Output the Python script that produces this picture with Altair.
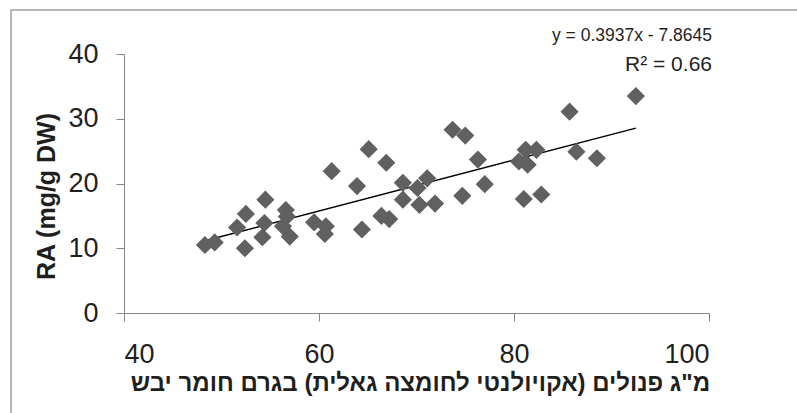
import altair as alt
import pandas as pd

# Total phenolics (mg gallic acid equivalents / g DW) vs. RA (mg/g DW)
phenolics = [48.3, 49.3, 51.6, 52.5, 52.4, 54.5, 54.4, 54.2, 56.6, 56.7,
             56.3, 57.0, 59.5, 60.7, 60.6, 61.3, 63.9, 64.4, 65.1, 66.9,
             66.4, 67.2, 68.6, 68.6, 70.1, 71.1, 70.3, 71.9, 73.7, 75.0,
             76.3, 77.0, 74.7, 81.2, 82.3, 80.5, 81.4, 86.4, 88.5, 81.0,
             82.8, 85.7, 92.5]
ra = [10.5, 10.9, 13.2, 15.3, 10.0, 17.5, 13.9, 11.7, 15.9, 14.9,
      13.4, 11.8, 14.0, 13.4, 12.2, 21.9, 19.6, 12.9, 25.3, 23.2,
      15.0, 14.5, 20.1, 17.5, 19.3, 20.8, 16.7, 16.9, 28.3, 27.4,
      23.7, 19.9, 18.1, 25.2, 25.2, 23.4, 22.9, 24.9, 23.9, 17.6,
      18.3, 31.1, 33.5]

# Linear trendline parameters
slope = 0.3937
intercept = -7.8645
r_squared = 0.66

x_ticks = [40, 60, 80, 100]
y_ticks = [0, 10, 20, 30, 40]

x_title = 'מ"ג פנולים (אקויולנטי לחומצה גאלית) בגרם חומר יבש'
y_title = "RA (mg/g DW)"

points_df = pd.DataFrame({"x": phenolics, "y": ra})
x_lo, x_hi = min(phenolics), max(phenolics)
trend_df = pd.DataFrame({"x": [x_lo, x_hi],
                         "y": [slope * x_lo + intercept, slope * x_hi + intercept]})

AXIS_GRAY = "#868686"
TEXT = "#1f1f1f"
FONT = "Liberation Sans"

x_scale = alt.Scale(domain=[40, 100], nice=False, zero=False)
y_scale = alt.Scale(domain=[0, 40], nice=False)

x_axis = alt.Axis(values=x_ticks, grid=False, tickSize=8, tickColor=AXIS_GRAY,
                  domainColor=AXIS_GRAY, labelFontSize=27, labelFont=FONT,
                  labelColor=TEXT, labelPadding=20, title=x_title,
                  titleFont=FONT, titleFontSize=24, titleFontWeight="bold",
                  titleColor=TEXT, titleX=296, titleY=77, titleAlign="center",
                  titleBaseline="alphabetic")
y_axis = alt.Axis(values=y_ticks, grid=False, tickSize=8, tickColor=AXIS_GRAY,
                  domainColor=AXIS_GRAY, labelFontSize=27, labelFont=FONT,
                  labelColor=TEXT, labelPadding=18, title=y_title,
                  titleFont=FONT, titleFontSize=25, titleFontWeight="bold",
                  titleColor=TEXT, titleAngle=270, titleX=-78, titleY=142,
                  titleAlign="center", titleBaseline="middle")

points = alt.Chart(points_df).mark_point(
    shape="diamond", filled=True, size=330, color="#606060", opacity=1
).encode(
    x=alt.X("x:Q", scale=x_scale, axis=x_axis),
    y=alt.Y("y:Q", scale=y_scale, axis=y_axis),
)

trend = alt.Chart(trend_df).mark_line(color="#000000", strokeWidth=1.5).encode(
    x=alt.X("x:Q", scale=x_scale),
    y=alt.Y("y:Q", scale=y_scale),
)

eq_text = f"y = {slope}x - {abs(intercept)}"
r2_text = f"R\u00b2 = {r_squared}"

equation = alt.Chart(pd.DataFrame({"t": [eq_text]})).mark_text(
    align="right", baseline="alphabetic", fontSize=17.5, font=FONT, color=TEXT
).encode(text="t:N", x=alt.value(588), y=alt.value(-13))

r2 = alt.Chart(pd.DataFrame({"t": [r2_text]})).mark_text(
    align="right", baseline="alphabetic", fontSize=21, font=FONT, color=TEXT
).encode(text="t:N", x=alt.value(588), y=alt.value(17))

# Thin frame around the whole chart
frame = alt.Chart(pd.DataFrame({"k": [0]})).mark_rect(
    fill=None, stroke="#a0a0a0", strokeWidth=1.5
).encode(x=alt.value(-113), x2=alt.value(1000), y=alt.value(-44), y2=alt.value(600))

chart = alt.layer(frame, trend, points, equation, r2).properties(
    width=585, height=259,
    autosize=alt.AutoSizeParams(type="none"),
    padding={"left": 124, "top": 54, "right": 88, "bottom": 100},
    background="white",
).configure_view(stroke=None)

chart.save("out.html", embed_options={"renderer": "svg", "actions": False})
